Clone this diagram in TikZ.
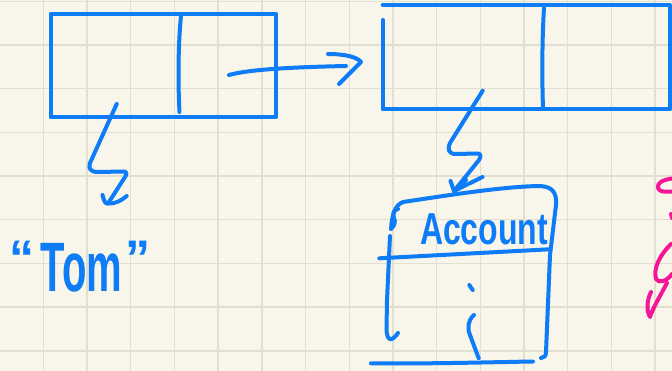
\documentclass[tikz,border=0pt]{standalone}
\usepackage{fontspec}
\setmainfont{Liberation Sans}
\definecolor{paper}{RGB}{248,245,234}
\definecolor{gridline}{RGB}{226,223,209}
\definecolor{ink}{RGB}{14,124,246}
\definecolor{pinkink}{RGB}{244,22,150}
\begin{document}
\begin{tikzpicture}[x=1pt,y=-1pt,
  pen/.style={draw=ink,line width=4pt,line cap=round,line join=round},
  pinkpen/.style={draw=pinkink,line width=4pt,line cap=round,line join=round},
  ruling/.style={draw=gridline,line width=1.4pt},
  inktext/.style={text=ink,anchor=base,inner sep=0pt}]
% paper and grid
\fill[paper] (0,0) rectangle (672,371);
\useasboundingbox (0,0) rectangle (672,371);
\foreach \k in {1,...,15} \draw[ruling] ({43.7*\k-0.4},0) -- ({43.7*\k-0.4},371);
\foreach \k in {0,...,8} \draw[ruling] (0,{1.3+43.7*\k}) -- (672,{1.3+43.7*\k});

% first list cell
\draw[pen] (50.7,14) rectangle (276,117.3);
\draw[pen] (181,16) .. controls (178,45) and (178,85) .. (179.5,112);

% second list cell
\draw[pen] (382.7,5) -- (670,5) -- (670,109.3) -- (382.7,109.3) -- (382.7,20);
\draw[pen] (544,8) .. controls (542,40) and (542,80) .. (543,108);

% pointer to next cell
\coordinate (nextStart) at (229,75);
\coordinate (nextTip) at (361,62);
\draw[pen] (nextStart) .. controls (250,69) and (300,67) .. (346,66);
\draw[pen] (328,54) .. controls (345,54) and (357,57) .. (nextTip) .. controls (353,70) and (345,78) .. (339,84);

% reference to the string
\coordinate (leftRef) at (116.7,104);
\coordinate (tomTip) at (108,203.5);
\draw[pen] (leftRef) -- (90,163) .. controls (88,169) and (91,172) .. (98,172) -- (124,171.5) .. controls (127,172) and (127,174) .. (125,177) -- (tomTip);
\draw[pen] (102.5,195) .. controls (104,201) and (105,204) .. (tomTip) .. controls (116,204) and (122,200) .. (126.7,196);

\node[inktext,font=\bfseries\fontsize{40}{40}\selectfont] (tom) at (80,292)
  {\raisebox{16pt}{\fontsize{50}{50}\selectfont “}\hspace{6pt}\scalebox{1}[1.75]{Tom}\hspace{3pt}\raisebox{16pt}{\fontsize{50}{50}\selectfont ”}};

% reference to the object
\coordinate (rightRef) at (482.7,90.7);
\coordinate (acctTip) at (454,191);
\draw[pen] (rightRef) -- (450,143) .. controls (447,150) and (449,154) .. (456,154) -- (478,153.5) .. controls (481,154) and (481,157) .. (479,160) -- (acctTip);
\draw[pen] (450.5,181) -- (acctTip) -- (482.5,177);
\draw[pen] (acctTip) -- (466,180);

% object box
\draw[pen] (391,229) .. controls (392,215) and (395,205) .. (403,202) .. controls (450,195) and (500,187) .. (538,186) .. controls (552,186) and (557,192) .. (556,205) -- (550,255) -- (546,352) .. controls (546,356) and (544,358) .. (541,358);
\draw[pen] (398,209) .. controls (394,210) and (392,213) .. (394,218) .. controls (396,222) and (394,226) .. (392,228);
\draw[pen] (390,236) -- (387,300) -- (386.5,330) .. controls (387,340) and (391,343) .. (398,333);
\draw[pen] (379.3,258.3) -- (549.3,249.3);
\draw[pen] (371,363.3) .. controls (430,364) and (500,362) .. (533,361.5);
\draw[pen] (469.3,285) -- (472.7,290);
\draw[pen] (474,315) .. controls (468,320) and (467,328) .. (470,335) -- (478.7,358.3);
\node[inktext,font=\bfseries\fontsize{32}{32}\selectfont] (acct) at (484,245) {\scalebox{1}[1.4]{Account}};

% pink handwriting at the edge
\draw[pinkpen] (672,178.5) .. controls (662,180) and (657,183) .. (658,188) .. controls (659,192) and (665,192) .. (671.5,191.5);
\draw[pinkpen] (671,214) -- (672,218);
\draw[pinkpen] (671,244) .. controls (660,255) and (653,268) .. (656,279) .. controls (659,284) and (667,281) .. (672,274);
\draw[pinkpen] (667,283) .. controls (660,296) and (652,310) .. (650,317) .. controls (646,310) and (647,300) .. (651,292);
\end{tikzpicture}
\end{document}
